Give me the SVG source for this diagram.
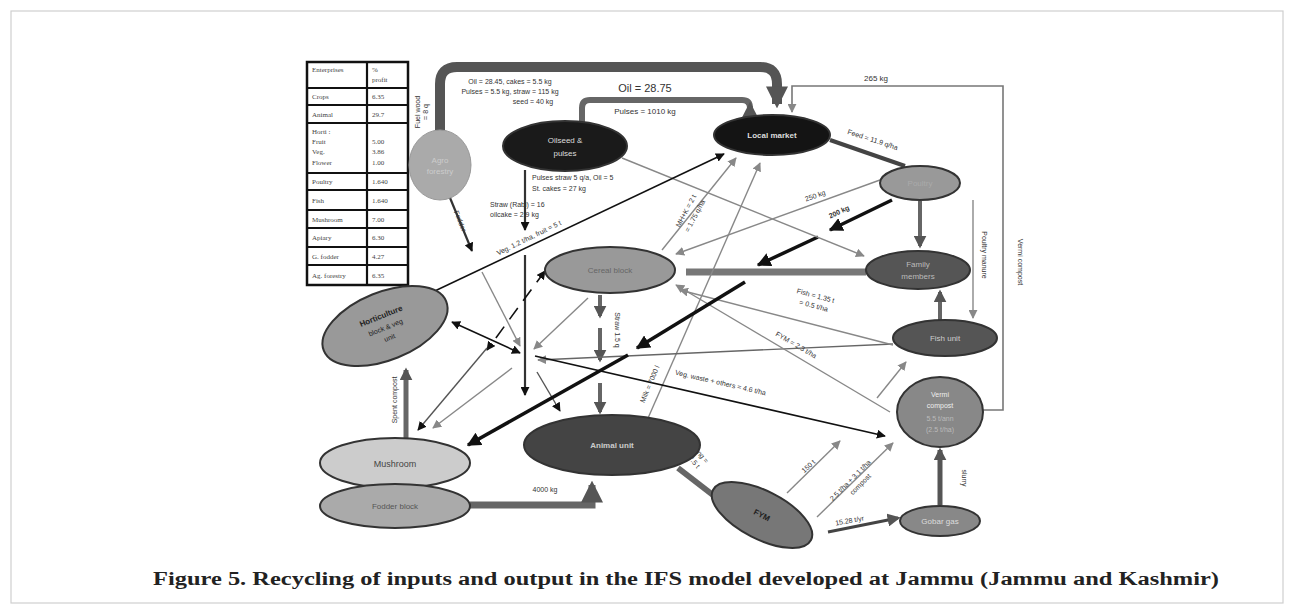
<svg xmlns="http://www.w3.org/2000/svg" width="1294" height="610" viewBox="0 0 1294 610">
<style>
.n{stroke:#333;stroke-width:2}
.t{font-family:"Liberation Sans",Arial,sans-serif;text-anchor:middle}
.lbl{font-family:"Liberation Sans",Arial,sans-serif;font-size:7px;fill:#333}
.tb{font-family:"Liberation Serif","Times New Roman",serif;font-size:7px;fill:#444}
.g{fill:none;stroke:#888;stroke-width:1.4}
.k{fill:none;stroke:#111;stroke-width:1.6}
.kb{fill:none;stroke:#111;stroke-width:3.5}
</style>
<defs>
<marker id="ag" viewBox="0 0 10 10" refX="9" refY="5" markerWidth="9" markerHeight="9" markerUnits="userSpaceOnUse" orient="auto-start-reverse"><path d="M0,0L10,5L0,10z" fill="#888"/></marker>
<marker id="ak" viewBox="0 0 10 10" refX="9" refY="5" markerWidth="9" markerHeight="9" markerUnits="userSpaceOnUse" orient="auto-start-reverse"><path d="M0,0L10,5L0,10z" fill="#111"/></marker>
<marker id="akb" viewBox="0 0 10 10" refX="9" refY="5" markerWidth="14" markerHeight="14" markerUnits="userSpaceOnUse" orient="auto-start-reverse"><path d="M0,0L10,5L0,10z" fill="#111"/></marker>
<marker id="ad" viewBox="0 0 10 10" refX="8" refY="5" markerWidth="13" markerHeight="13" markerUnits="userSpaceOnUse" orient="auto"><path d="M0,0L10,5L0,10z" fill="#555"/></marker>
<marker id="ab" viewBox="0 0 10 10" refX="8" refY="5" markerWidth="22" markerHeight="22" markerUnits="userSpaceOnUse" orient="auto"><path d="M0,0L10,5L0,10z" fill="#555"/></marker>
</defs>
<rect width="1294" height="610" fill="#fff"/>
<rect x="11" y="11" width="1272" height="592" fill="none" stroke="#cfcfcf" stroke-width="1.2"/>

<g id="table">
<rect x="307" y="62" width="101" height="223" fill="#fff" stroke="#111" stroke-width="2.5"/>
<g stroke="#111" stroke-width="2.2">
<line x1="367" y1="62" x2="367" y2="285"/>
<line x1="307" y1="88" x2="408" y2="88"/><line x1="307" y1="105" x2="408" y2="105"/>
<line x1="307" y1="123" x2="408" y2="123"/><line x1="307" y1="173" x2="408" y2="173"/>
<line x1="307" y1="190" x2="408" y2="190"/><line x1="307" y1="210" x2="408" y2="210"/>
<line x1="307" y1="228" x2="408" y2="228"/><line x1="307" y1="247" x2="408" y2="247"/>
<line x1="307" y1="265" x2="408" y2="265"/>
</g>
<g class="tb">
<text x="312" y="72">Enterprises</text><text x="372" y="72">%</text><text x="372" y="82">profit</text>
<text x="312" y="99">Crops</text><text x="372" y="99">6.35</text>
<text x="312" y="117">Animal</text><text x="372" y="117">29.7</text>
<text x="312" y="134">Horti :</text><text x="312" y="144">Fruit</text><text x="312" y="154">Veg.</text><text x="312" y="165">Flower</text>
<text x="372" y="144">5.00</text><text x="372" y="154">3.86</text><text x="372" y="165">1.00</text>
<text x="312" y="184">Poultry</text><text x="372" y="184">1.640</text>
<text x="312" y="203">Fish</text><text x="372" y="203">1.640</text>
<text x="312" y="222">Mushroom</text><text x="372" y="222">7.00</text>
<text x="312" y="240">Apiary</text><text x="372" y="240">6.30</text>
<text x="312" y="259">G. fodder</text><text x="372" y="259">4.27</text>
<text x="312" y="278">Ag. forestry</text><text x="372" y="278">6.35</text>
</g>
</g>

<g id="connectors">
<path d="M440,132 V84 Q440,67 457,67 H760 Q777,67 777,84 V104" fill="none" stroke="#555" stroke-width="10" marker-end="url(#ab)"/>
<path d="M582,124 V108 Q582,100 590,100 H742 Q750,100 750,108 V106" fill="none" stroke="#666" stroke-width="6" marker-end="url(#ab)"/>
<path d="M982,410 H1003 V86 H792 V112" fill="none" stroke="#777" stroke-width="1.6" marker-end="url(#ag)"/>
<line x1="830" y1="140" x2="905" y2="166" stroke="#444" stroke-width="4"/>
<line x1="920" y1="201" x2="920" y2="246" stroke="#666" stroke-width="4" marker-end="url(#ad)"/>
<line x1="940" y1="320" x2="940" y2="292" stroke="#666" stroke-width="4" marker-end="url(#ad)"/>
<line x1="973" y1="200" x2="973" y2="318" class="g" marker-end="url(#ag)"/>
<line x1="866" y1="272" x2="686" y2="272" stroke="#777" stroke-width="7"/>
<line x1="892" y1="200" x2="830" y2="230" class="kb" marker-end="url(#akb)"/>
<line x1="818" y1="237" x2="758" y2="265" class="kb" marker-end="url(#akb)"/>
<line x1="880" y1="180" x2="676" y2="254" class="g" marker-end="url(#ag)"/>
<line x1="622" y1="158" x2="864" y2="256" class="g" marker-end="url(#ag)"/>
<line x1="525" y1="170" x2="525" y2="230" stroke="#333" stroke-width="2.2" marker-end="url(#ak)"/>
<line x1="525" y1="255" x2="525" y2="395" stroke="#333" stroke-width="2.2" marker-end="url(#ak)"/>
<line x1="448" y1="193" x2="472" y2="251" stroke="#333" stroke-width="2.2" marker-end="url(#ak)"/>
<line x1="420" y1="298" x2="724" y2="154" class="k" stroke-width="1.3" marker-end="url(#ak)"/>
<line x1="662" y1="250" x2="736" y2="158" class="g" marker-end="url(#ag)"/>
<line x1="645" y1="425" x2="760" y2="163" class="g" marker-end="url(#ag)"/>
<line x1="600" y1="295" x2="600" y2="316" stroke="#666" stroke-width="4" marker-end="url(#ad)"/>
<line x1="600" y1="328" x2="600" y2="360" stroke="#666" stroke-width="4" marker-end="url(#ad)"/>
<line x1="600" y1="383" x2="600" y2="412" stroke="#666" stroke-width="4" marker-end="url(#ad)"/>
<line x1="588" y1="298" x2="534" y2="349" class="g" marker-end="url(#ag)"/>
<line x1="482" y1="272" x2="520" y2="346" class="g" stroke="#666" marker-end="url(#ag)"/>
<line x1="545" y1="271" x2="487" y2="350" class="k" stroke-dasharray="14,9" marker-start="url(#ak)" marker-end="url(#ak)"/>
<line x1="452" y1="322" x2="520" y2="353" class="k" marker-start="url(#ak)" marker-end="url(#ak)"/>
<line x1="512" y1="368" x2="433" y2="428" class="g" marker-end="url(#ag)"/>
<line x1="487" y1="348" x2="418" y2="430" stroke="#555" stroke-width="1.4" marker-end="url(#ak)"/>
<line x1="537" y1="372" x2="560" y2="411" stroke="#555" stroke-width="1.4" marker-end="url(#ak)"/>
<line x1="893" y1="344" x2="538" y2="360" stroke="#666" stroke-width="1.4" marker-end="url(#ag)"/>
<line x1="893" y1="345" x2="680" y2="290" class="g" marker-end="url(#ag)"/>
<line x1="890" y1="412" x2="676" y2="285" class="g" marker-end="url(#ag)"/>
<line x1="535" y1="356" x2="885" y2="436" class="k" marker-end="url(#ak)"/>
<line x1="745" y1="282" x2="637" y2="348" class="kb" marker-end="url(#akb)"/>
<line x1="628" y1="355" x2="468" y2="445" class="kb" marker-end="url(#akb)"/>
<line x1="877" y1="398" x2="906" y2="362" class="g" marker-end="url(#ag)"/>
<line x1="678" y1="468" x2="722" y2="502" stroke="#666" stroke-width="6"/>
<line x1="787" y1="493" x2="840" y2="441" class="g" marker-end="url(#ag)"/>
<line x1="817" y1="517" x2="893" y2="443" class="g" marker-end="url(#ag)"/>
<line x1="828" y1="532" x2="898" y2="518" stroke="#444" stroke-width="3" marker-end="url(#ad)"/>
<line x1="940" y1="505" x2="940" y2="450" stroke="#555" stroke-width="5" marker-end="url(#ad)"/>
<line x1="406" y1="438" x2="406" y2="370" stroke="#666" stroke-width="5" marker-end="url(#ad)"/>
<path d="M470,505 H592 V485" fill="none" stroke="#666" stroke-width="7" marker-end="url(#ab)"/>
</g>

<g id="labels">
<text class="lbl" transform="translate(420,112) rotate(-90)" text-anchor="middle">Fuel wood</text>
<text class="lbl" transform="translate(428,112) rotate(-90)" text-anchor="middle">= 8 q</text>
<text class="lbl" x="510" y="84" text-anchor="middle" font-size="6.5">Oil = 28.45, cakes = 5.5 kg</text>
<text class="lbl" x="510" y="94" text-anchor="middle" font-size="6.5">Pulses = 5.5 kg, straw = 115 kg</text>
<text class="lbl" x="533" y="104" text-anchor="middle" font-size="6.5">seed = 40 kg</text>
<text x="645" y="92" class="t" font-size="11" fill="#333">Oil = 28.75</text>
<text x="645" y="114" class="t" font-size="8" fill="#333">Pulses = 1010 kg</text>
<text x="876" y="81" class="t" font-size="8" fill="#333">265 kg</text>
<text class="lbl" transform="translate(872,142) rotate(18)" text-anchor="middle">Feed = 11.9 q/ha</text>
<text class="lbl" transform="translate(816,198) rotate(-20)" text-anchor="middle" font-size="8">250 kg</text>
<text class="lbl" transform="translate(840,214) rotate(-25)" text-anchor="middle" font-size="9" font-weight="bold">200 kg</text>
<text class="lbl" transform="translate(982,255) rotate(90)" text-anchor="middle">Poultry manure</text>
<text class="lbl" transform="translate(1018,262) rotate(90)" text-anchor="middle">Vermi compost</text>
<text class="lbl" transform="translate(815,298) rotate(15)" text-anchor="middle">Fish = 1.35 t</text>
<text class="lbl" transform="translate(813,308) rotate(15)" text-anchor="middle">= 0.5 t/ha</text>
<text class="lbl" transform="translate(795,347) rotate(30)" text-anchor="middle">FYM = 2.3 t/ha</text>
<text class="lbl" transform="translate(720,385) rotate(13)" text-anchor="middle">Veg. waste + others = 4.6 t/ha</text>
<text class="lbl" transform="translate(652,385) rotate(-67)" text-anchor="middle">Milk = 7000 l</text>
<text class="lbl" transform="translate(688,212) rotate(-62)" text-anchor="middle">MH+K = 2 t</text>
<text class="lbl" transform="translate(697,217) rotate(-62)" text-anchor="middle">= 1.75 q/ha</text>
<text class="lbl" transform="translate(530,240) rotate(-26)" text-anchor="middle">Veg. 1.2 t/ha, fruit = 5 t</text>
<text class="lbl" transform="translate(458,222) rotate(68)" text-anchor="middle">Fodder</text>
<text class="lbl" x="532" y="180">Pulses straw 5 q/a, Oil = 5</text>
<text class="lbl" x="532" y="191">St. cakes = 27 kg</text>
<text class="lbl" x="490" y="207">Straw (Rabi) = 16</text>
<text class="lbl" x="490" y="217">oilcake = 2.9 kg</text>
<text class="lbl" transform="translate(615,330) rotate(90)" text-anchor="middle">Straw 1.5 q</text>
<text class="lbl" transform="translate(397,400) rotate(-90)" text-anchor="middle">Spent compost</text>
<text class="lbl" x="545" y="492" text-anchor="middle">4000 kg</text>
<text class="lbl" transform="translate(698,455) rotate(50)" text-anchor="middle">Dung =</text>
<text class="lbl" transform="translate(691,462) rotate(50)" text-anchor="middle">37.5 t</text>
<text class="lbl" transform="translate(810,468) rotate(-43)" text-anchor="middle">150 t</text>
<text class="lbl" transform="translate(852,482) rotate(-45)" text-anchor="middle">2.5 t/ha + 3.1 t/ha</text>
<text class="lbl" transform="translate(862,486) rotate(-45)" text-anchor="middle">compost</text>
<text class="lbl" transform="translate(850,523) rotate(-10)" text-anchor="middle">15.28 t/yr</text>
<text class="lbl" transform="translate(962,478) rotate(90)" text-anchor="middle">slurry</text>
</g>

<g id="agro-forestry"><ellipse cx="440" cy="165" rx="31" ry="35" fill="#aaa" stroke="#999" stroke-width="1"/><text class="t" x="440" y="163" font-size="8" fill="#ccc">Agro</text><text class="t" x="440" y="174" font-size="8" fill="#ccc">forestry</text></g>
<g id="oilseed"><ellipse class="n" cx="565" cy="146" rx="62" ry="25" fill="#1a1a1a"/><text class="t" x="565" y="143" font-size="8" fill="#ddd">Oilseed &amp;</text><text class="t" x="565" y="156" font-size="8" fill="#ddd">pulses</text></g>
<g id="local-market"><ellipse class="n" cx="772" cy="135" rx="58" ry="20" fill="#141414"/><text class="t" x="772" y="138" font-size="8" font-weight="bold" fill="#ddd">Local market</text></g>
<g id="poultry"><ellipse class="n" cx="920" cy="183" rx="40" ry="17" fill="#999"/><text class="t" x="920" y="186" font-size="8" fill="#aaa">Poultry</text></g>
<g id="family"><ellipse class="n" cx="918" cy="270" rx="52" ry="19" fill="#555"/><text class="t" x="918" y="267" font-size="8" fill="#bbb">Family</text><text class="t" x="918" y="279" font-size="8" fill="#bbb">members</text></g>
<g id="fish-unit"><ellipse class="n" cx="945" cy="338" rx="52" ry="18" fill="#555"/><text class="t" x="945" y="341" font-size="8" fill="#ccc">Fish unit</text></g>
<g id="vermi"><ellipse class="n" cx="940" cy="412" rx="43" ry="35" fill="#888"/><text class="t" x="940" y="397" font-size="7" fill="#eee">Vermi</text><text class="t" x="940" y="408" font-size="7" fill="#eee">compost</text><text class="t" x="940" y="421" font-size="7" fill="#bbb">5.5 t/ann</text><text class="t" x="940" y="432" font-size="7" fill="#bbb">(2.5 t/ha)</text></g>
<g id="gobar-gas"><ellipse class="n" cx="940" cy="521" rx="40" ry="15" fill="#888"/><text class="t" x="940" y="524" font-size="8" fill="#ddd">Gobar gas</text></g>
<g id="cereal"><ellipse class="n" cx="610" cy="270" rx="65" ry="23" fill="#999"/><text class="t" x="610" y="273" font-size="8" fill="#666">Cereal block</text></g>
<g id="vegetable"><ellipse class="n" cx="385" cy="326" rx="66" ry="34" fill="#999" transform="rotate(-22 385 326)"/><g transform="rotate(-22 385 326)"><text class="t" x="385" y="318" font-size="8" font-weight="bold" fill="#222">Horticulture</text><text class="t" x="385" y="330" font-size="7" fill="#222">block &amp; veg</text><text class="t" x="385" y="341" font-size="7" fill="#222">unit</text></g></g>
<g id="mushroom"><ellipse class="n" cx="395" cy="463" rx="75" ry="25" fill="#ccc"/><text class="t" x="395" y="467" font-size="9" fill="#444">Mushroom</text></g>
<g id="fodder"><ellipse class="n" cx="395" cy="506" rx="75" ry="22" fill="#aaa"/><text class="t" x="395" y="509" font-size="8" fill="#555">Fodder block</text></g>
<g id="animal-unit"><ellipse class="n" cx="612" cy="445" rx="88" ry="30" fill="#444"/><text class="t" x="612" y="448" font-size="8" font-weight="bold" fill="#ccc">Animal unit</text></g>
<g id="fym"><ellipse class="n" cx="762" cy="515" rx="55" ry="24" fill="#777" transform="rotate(27 762 515)"/><text class="t" x="762" y="518" font-size="8" font-weight="bold" fill="#222" transform="rotate(27 762 515)">FYM</text></g>

<text x="686" y="585" font-family="'Liberation Serif','Times New Roman',serif" font-size="18" font-weight="bold" fill="#222" text-anchor="middle" textLength="1066" lengthAdjust="spacingAndGlyphs">Figure 5. Recycling of inputs and output in the IFS model developed at Jammu (Jammu and Kashmir)</text>
</svg>
